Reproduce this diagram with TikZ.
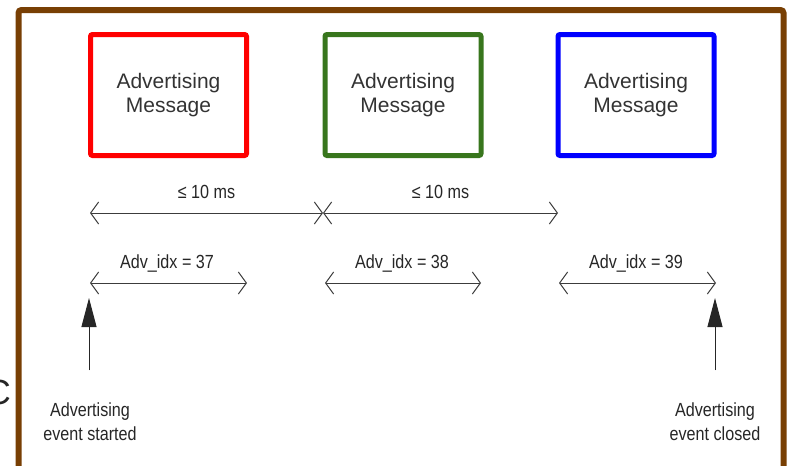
\documentclass[tikz,border=0pt]{standalone}
\usepackage{fontspec}
\setmainfont{Liberation Sans}
\newfontfamily\narrowfont[FakeStretch=0.85]{Liberation Sans}
\usetikzlibrary{arrows.meta,positioning}
\definecolor{frameBrown}{RGB}{120,63,4}
\definecolor{msgRed}{RGB}{255,0,0}
\definecolor{msgGreen}{RGB}{56,118,29}
\definecolor{msgBlue}{RGB}{0,0,255}
\definecolor{inkGray}{RGB}{60,60,60}

\begin{document}
\begin{tikzpicture}[
  x=1pt, y=-1pt,
  frameLine/.style={draw=frameBrown, line width=6pt, rounded corners=3pt},
  msgBox/.style={
    draw=#1, line width=5pt, rounded corners=2pt,
    minimum width=156pt, minimum height=121pt, inner sep=0pt,
    align=center, text=black!80, font=\fontsize{21}{23.5}\selectfont
  },
  span/.style={
    {Straight Barb[length=8pt,width=22pt]}-{Straight Barb[length=8pt,width=22pt]},
    draw=inkGray, line width=1pt
  },
  marker/.style={-{Triangle[length=29pt,width=15pt]}, draw=black!85, fill=black!85, line width=1pt},
  lbl/.style={font=\narrowfont\fontsize{19}{24}\selectfont, text=black!85, inner sep=0pt, align=center}
]
\useasboundingbox (0,0) rectangle (788,466);

% --- Moldura ---
\draw[frameLine] (18.5,480) -- (18.5,10) -- (783.5,10) -- (783.5,480);
\node[font=\fontsize{35}{35}\selectfont, text=black!85, anchor=base west, inner sep=0pt] (cut) at (-14.5,404) {C};

% --- Mensagens ---
\node[msgBox=msgRed]   (adv37) at (168.5,95) {Advertising\\Message};
\node[msgBox=msgGreen] (adv38) at (403,95)   {Advertising\\Message};
\node[msgBox=msgBlue]  (adv39) at (636,95)   {Advertising\\Message};

% --- Intervalos <= 10 ms ---
\coordinate (gapL) at (90,213);
\coordinate (gapM) at (323,213);
\coordinate (gapR) at (558,213);
\draw[span] (gapL) -- (gapM);
\draw[span] (gapM) -- (gapR);
\node[lbl, anchor=base] (gap1) at (206.5,198) {≤ 10 ms};
\node[lbl, anchor=base] (gap2) at (440.5,198) {≤ 10 ms};

% --- Canais ---
\coordinate (ch37a) at (90,283);  \coordinate (ch37b) at (247,283);
\coordinate (ch38a) at (325,283); \coordinate (ch38b) at (481,283);
\coordinate (ch39a) at (559,283); \coordinate (ch39b) at (716,283);
\draw[span] (ch37a) -- (ch37b);
\draw[span] (ch38a) -- (ch38b);
\draw[span] (ch39a) -- (ch39b);
\node[lbl, anchor=base] (idx37) at (167,268) {Adv\_idx = 37};
\node[lbl, anchor=base] (idx38) at (402,268) {Adv\_idx = 38};
\node[lbl, anchor=base] (idx39) at (636,268) {Adv\_idx = 39};

% --- Inicio e fim do evento ---
\coordinate (startTail) at (89,370);  \coordinate (startTip) at (89,298);
\coordinate (endTail) at (715,370);   \coordinate (endTip) at (715,298);
\draw[marker] (startTail) -- (startTip);
\draw[marker] (endTail) -- (endTip);
\node[lbl] (evStart) at (90,422) {Advertising\\event started};
\node[lbl] (evEnd) at (715,422) {Advertising\\event closed};

\end{tikzpicture}
\end{document}
